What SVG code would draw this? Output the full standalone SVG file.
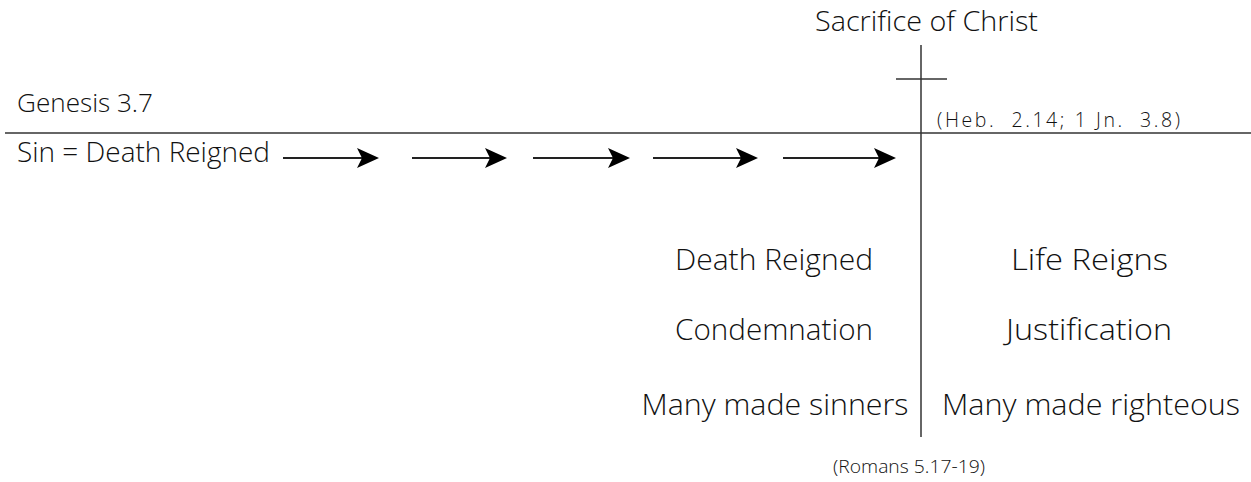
<svg xmlns="http://www.w3.org/2000/svg" width="1251" height="482" viewBox="0 0 1251 482">
  <style>
    text { font-family: "Open Sans", "Liberation Sans", sans-serif; font-weight: 300; fill: #111; }
    .rule { stroke: #333; stroke-width: 1.5; fill: none; }
    .arrow { stroke: #222; stroke-width: 2; fill: none; marker-end: url(#head); }
    .big { font-size: 29.5px; text-anchor: middle; }
  </style>
  <defs>
    <marker id="head" viewBox="0 0 22 20" refX="12" refY="10" markerWidth="22" markerHeight="20" markerUnits="userSpaceOnUse" orient="auto">
      <path d="M0,0 L22,10 L0,20 L5,10 Z" fill="#000"/>
    </marker>
  </defs>
  <rect width="1251" height="482" fill="#fff"/>

  <g id="timeline">
    <line class="rule" x1="5" y1="133" x2="1251" y2="133"/>
  </g>

  <g id="cross">
    <line class="rule" x1="921" y1="45" x2="921" y2="437"/>
    <line class="rule" x1="896" y1="79" x2="947" y2="79"/>
  </g>

  <g id="sacrifice">
    <text x="815" y="31" font-size="27" textLength="223" lengthAdjust="spacingAndGlyphs">Sacrifice of Christ</text>
  </g>
  <g id="heb">
    <text x="937" y="127" font-size="19.5" textLength="243" lengthAdjust="spacing" xml:space="preserve">(Heb.  2.14; 1 Jn.  3.8)</text>
  </g>
  <g id="genesis">
    <text x="17" y="112" font-size="26" textLength="136" lengthAdjust="spacingAndGlyphs">Genesis 3.7</text>
  </g>
  <g id="sin">
    <text x="17" y="162" font-size="28" textLength="253" lengthAdjust="spacingAndGlyphs">Sin = Death Reigned</text>
  </g>

  <g id="connectors">
    <line class="arrow" x1="283" y1="158" x2="369" y2="158"/>
    <line class="arrow" x1="412" y1="158" x2="497" y2="158"/>
    <line class="arrow" x1="533" y1="158" x2="620" y2="158"/>
    <line class="arrow" x1="653" y1="158" x2="748" y2="158"/>
    <line class="arrow" x1="783" y1="158" x2="886" y2="158"/>
  </g>

  <g id="death-reigned"><text class="big" x="774" y="270" textLength="198" lengthAdjust="spacingAndGlyphs">Death Reigned</text></g>
  <g id="life-reigns"><text class="big" x="1089.5" y="270" textLength="157" lengthAdjust="spacingAndGlyphs">Life Reigns</text></g>
  <g id="condemnation"><text class="big" x="774" y="340" textLength="198" lengthAdjust="spacingAndGlyphs">Condemnation</text></g>
  <g id="justification"><text class="big" x="1089" y="340" textLength="166" lengthAdjust="spacingAndGlyphs">Justification</text></g>
  <g id="many-sinners"><text class="big" x="775" y="415" textLength="267" lengthAdjust="spacingAndGlyphs">Many made sinners</text></g>
  <g id="many-righteous"><text class="big" x="1091" y="415" textLength="298" lengthAdjust="spacingAndGlyphs">Many made righteous</text></g>

  <g id="romans">
    <text x="909" y="473" font-size="19" text-anchor="middle" textLength="152" lengthAdjust="spacingAndGlyphs">(Romans 5.17-19)</text>
  </g>
</svg>
